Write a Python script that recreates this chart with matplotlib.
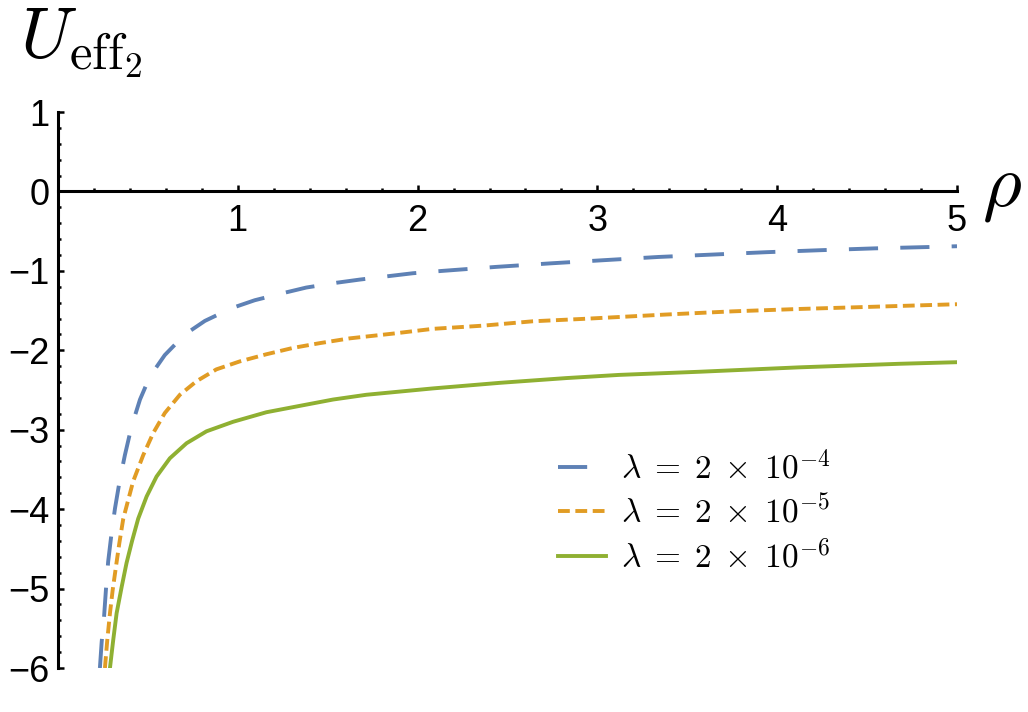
import numpy as np
import matplotlib
matplotlib.use("Agg")
import matplotlib.pyplot as plt
from matplotlib.ticker import MultipleLocator, FixedLocator

# values
rho_a = [0.233, 0.243, 0.256, 0.267, 0.279, 0.298, 0.317, 0.344, 0.372, 0.409, 0.456,
         0.511, 0.594, 0.706, 0.817, 0.965, 1.094, 1.252, 1.381, 1.548, 1.678, 1.844,
         1.974, 2.14, 2.437, 2.743, 3.04, 3.34, 3.64, 3.94, 4.24, 4.54, 4.84, 5.0]
u_a = [-6.0, -5.67, -5.36, -5.00, -4.66, -4.30, -3.99, -3.63, -3.32, -2.96, -2.62,
       -2.33, -2.06, -1.80, -1.63, -1.47, -1.37, -1.28, -1.21, -1.15, -1.11, -1.065,
       -1.03, -1.00, -0.95, -0.905, -0.865, -0.825, -0.795, -0.765, -0.74, -0.717, -0.70, -0.69]

rho_b = [0.261, 0.274, 0.289, 0.304, 0.322, 0.341, 0.363, 0.391, 0.418, 0.474, 0.53,
         0.594, 0.678, 0.77, 0.881, 1.011, 1.159, 1.307, 1.456, 1.622, 1.863, 2.085,
         2.363, 2.64, 2.918, 3.38, 3.75, 4.12, 4.49, 5.0]
u_b = [-6.0, -5.65, -5.31, -5.02, -4.73, -4.43, -4.12, -3.88, -3.65, -3.32, -3.04,
       -2.79, -2.56, -2.39, -2.24, -2.14, -2.05, -1.97, -1.91, -1.85, -1.79, -1.73,
       -1.69, -1.635, -1.605, -1.55, -1.51, -1.48, -1.455, -1.42]

rho_c = [0.289, 0.307, 0.326, 0.354, 0.381, 0.412, 0.446, 0.493, 0.548, 0.622, 0.715,
         0.826, 0.974, 1.159, 1.344, 1.53, 1.715, 1.9, 2.085, 2.456, 2.826, 3.12, 3.57,
         4.12, 4.68, 5.0]
u_c = [-6.0, -5.65, -5.31, -4.98, -4.68, -4.40, -4.12, -3.84, -3.59, -3.36, -3.17,
       -3.02, -2.90, -2.78, -2.70, -2.62, -2.56, -2.52, -2.48, -2.41, -2.35, -2.31, -2.27,
       -2.215, -2.17, -2.15]

labels = [r'$\lambda\;=\;2\;\times\;10^{-4}$', r'$\lambda\;=\;2\;\times\;10^{-5}$',
          r'$\lambda\;=\;2\;\times\;10^{-6}$']
colors = ['#5E81B5', '#E19C24', '#8FB032']

plt.rcParams['mathtext.fontset'] = 'cm'
plt.rcParams['font.family'] = ['Liberation Sans', 'DejaVu Sans']
plt.rcParams['lines.scale_dashes'] = False

fig = plt.figure(figsize=(10.28, 7.12), dpi=100)
ax = fig.add_axes([58/1028, 1 - 668/712, (957 - 58)/1028, (668 - 112)/712])

ax.plot(rho_a, u_a, color=colors[0], lw=2.8, dashes=(21, 16), label=labels[0])
ax.plot(rho_b, u_b, color=colors[1], lw=2.8, dashes=(8.5, 4), label=labels[1])
ax.plot(rho_c, u_c, color=colors[2], lw=2.8, label=labels[2])

ax.set_xlim(0, 5)
ax.set_ylim(-6, 1)

# Mathematica style axes through the origin
ax.spines['left'].set_position(('data', 0))
ax.spines['bottom'].set_position(('data', 0))
ax.spines['right'].set_visible(False)
ax.spines['top'].set_visible(False)
for s in ['left', 'bottom']:
    ax.spines[s].set_linewidth(2.2)

ax.xaxis.set_major_locator(FixedLocator([1, 2, 3, 4, 5]))
ax.xaxis.set_minor_locator(MultipleLocator(0.2))
ax.yaxis.set_major_locator(MultipleLocator(1))
ax.yaxis.set_minor_locator(MultipleLocator(0.2))
ax.tick_params(which='both', direction='in', width=1.8, labelsize=26)
ax.tick_params(which='major', length=4)
ax.tick_params(which='minor', length=2.2)
ax.tick_params(axis='x', pad=9)
ax.tick_params(axis='y', pad=6)

fig.text(20/1028, 1 - 57/712, r'$U_{\mathrm{eff}_2}$', fontsize=52, ha='left', va='baseline')
ax.text(5.14, 0.02, r'$\rho$', fontsize=54, ha='left', va='center')

ax.legend(loc='upper left', bbox_to_anchor=(0.556, 0.39), frameon=False, fontsize=24,
          handlelength=1.45, handletextpad=0.45, labelspacing=0.3, borderpad=0,
          borderaxespad=0)

fig.savefig('out.png', dpi=100)
